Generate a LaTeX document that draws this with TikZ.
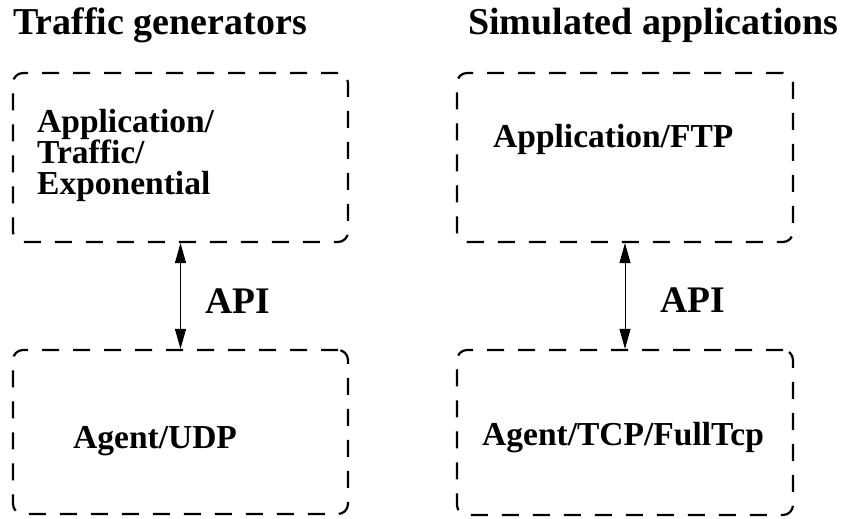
\documentclass[tikz,border=0pt]{standalone}
\usepackage{fontspec}
\setmainfont{Liberation Serif}
\usetikzlibrary{arrows.meta}
\begin{document}
\begin{tikzpicture}[x=1pt,y=-1pt,
  dbox/.style={draw, line width=2.2pt, dash pattern=on 17pt off 14pt, rounded corners=10pt, inner sep=0pt, minimum width=335pt},
  title/.style={anchor=base west, inner sep=0pt, font=\fontsize{38}{40}\selectfont\bfseries},
  lbl/.style={anchor=base west, inner sep=0pt, font=\fontsize{33.5}{31}\selectfont\bfseries},
  api/.style={anchor=base west, inner sep=0pt, font=\fontsize{37.5}{40}\selectfont\bfseries},
  link/.style={line width=1pt, {Triangle[length=20pt,width=11pt]}-{Triangle[length=20pt,width=11pt]}}]
\useasboundingbox (0,0) rectangle (846,519);
\node[title] (t1) at (13,35) {Traffic generators};
\node[title] (t2) at (468,35) {Simulated applications};
\node[dbox, minimum height=169pt] (b1) at (180.5,157.5) {};
\node[dbox, minimum height=164pt] (b2) at (180.5,432) {};
\node[dbox, minimum height=169pt, minimum width=336pt] (b3) at (625,157.5) {};
\node[dbox, minimum height=165pt, minimum width=336pt] (b4) at (625,432.5) {};
\node[anchor=north west, inner sep=0pt, align=left, font=\fontsize{33.5}{31}\selectfont\bfseries] (l1) at (37,109) {Application/\\Traffic/\\Exponential};
\node[lbl] (l2) at (73,448) {Agent/UDP};
\node[lbl] (l3) at (493,147) {Application/FTP};
\node[lbl] (l4) at (482,445) {Agent/TCP/FullTcp};
\node[api] (a1) at (205,313) {API};
\node[api] (a2) at (660,312) {API};
\draw[link] (b1.south) -- (b2.north);
\draw[link] (b3.south) -- (b4.north);
\end{tikzpicture}
\end{document}
